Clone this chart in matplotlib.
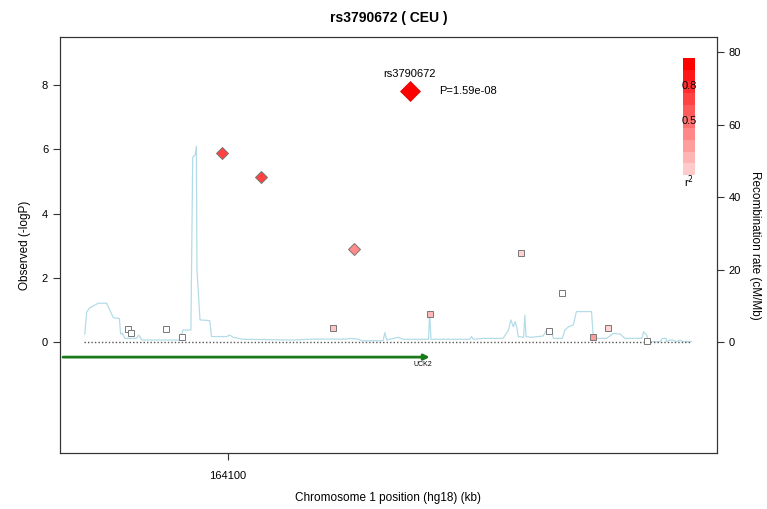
import numpy as np
import matplotlib.pyplot as plt
from matplotlib.colors import LinearSegmentedColormap
from matplotlib.patches import Rectangle

plt.rcParams['font.family'] = ['Liberation Sans', 'DejaVu Sans']

# lead SNP
lead_name = "rs3790672"
lead_pos = 164130.0
lead_logp = 7.80
lead_p = "P=1.59e-08"

# other SNPs: position (kb), -log10 P, r2 with lead SNP
snp_pos = [164099.0, 164105.4, 164120.8,
           164083.5, 164084.1, 164089.8, 164092.5, 164117.3, 164133.4,
           164148.4, 164153.0, 164155.2, 164160.3, 164162.8, 164169.1]
snp_logp = [5.89, 5.14, 2.90,
            0.41, 0.29, 0.40, 0.17, 0.44, 0.88,
            2.78, 0.34, 1.53, 0.15, 0.45, 0.04]
snp_r2 = [0.70, 0.70, 0.38,
          0.0, 0.0, 0.0, 0.0, 0.12, 0.18,
          0.06, 0.0, 0.0, 0.30, 0.06, 0.0]
snp_shape = ['D', 'D', 'D',
             's', 's', 's', 's', 's', 's',
             's', 's', 's', 's', 's', 's']

# recombination rate (cM/Mb)
rec_pos = [164076.4, 164076.7, 164077.1, 164078.6, 164080.0, 164081.1, 164082.1, 164082.3,
           164082.6, 164083.0, 164084.9, 164085.3, 164085.8, 164092.1, 164092.6, 164093.9,
           164094.2, 164094.6, 164094.8, 164094.9, 164095.4, 164097.0, 164097.3, 164099.8,
           164100.3, 164100.9, 164102.5, 164110.7, 164114.0, 164119.6, 164120.1, 164121.5,
           164122.1, 164125.6, 164125.9, 164126.2, 164128.1, 164128.9, 164133.1, 164133.3,
           164133.5, 164139.9, 164140.2, 164140.5, 164142.1, 164145.4, 164146.3, 164146.7,
           164147.1, 164147.4, 164147.7, 164147.9, 164148.8, 164149.0, 164149.2, 164150.1,
           164152.0, 164152.6, 164153.4, 164153.7, 164155.2, 164155.6, 164156.2, 164157.0,
           164157.5, 164160.0, 164160.3, 164162.5, 164163.6, 164164.7, 164165.5, 164168.3,
           164168.6, 164169.1, 164169.4, 164171.3, 164171.7, 164172.3, 164172.4, 164172.9,
           164173.5, 164173.9, 164174.6, 164175.1, 164176.5]
rec_rate = [2.2, 8.1, 9.3, 10.7, 10.7, 6.7, 6.5, 2.2,
            2.4, 1.0, 1.0, 1.9, 0.55, 0.55, 3.3, 3.3,
            51.0, 51.6, 54.0, 19.9, 6.1, 5.9, 1.5, 1.5,
            1.9, 1.3, 0.75, 0.55, 0.8, 0.8, 1.0, 0.8,
            0.36, 0.36, 2.6, 0.55, 1.3, 0.75, 0.75, 8.4,
            0.75, 0.75, 1.5, 0.75, 1.0, 1.0, 3.3, 6.1,
            4.2, 5.6, 3.8, 1.5, 1.3, 7.4, 1.5, 1.3,
            1.65, 3.3, 3.3, 1.0, 1.0, 3.3, 4.2, 4.7,
            8.4, 8.4, 1.0, 1.0, 2.4, 2.2, 1.0, 1.0,
            2.8, 1.9, 0.1, 0.1, 1.0, 1.0, 0.1, 0.55,
            0.55, 0.1, 0.5, 0.1, 0.1]

# gene
gene_name = "UCK2"
gene_start = 164060.0
gene_end = 164133.3

region = (164076.2, 164176.2)
x_ticks = [164100]

cmap = LinearSegmentedColormap.from_list("ld", ["#ffffff", "#ff0000"])

fig = plt.figure(figsize=(7.67, 5.09), dpi=100)
ax = fig.add_axes([0.0782, 0.110, 0.8566, 0.8173])
ax2 = ax.twinx()

ax.set_xlim(164072.3, 164180.7)
ax.set_ylim(-3.455, 9.494)
ax2.set_ylim(-30.62, 84.14)

ax.set_zorder(ax2.get_zorder() + 1)
ax.patch.set_visible(False)

# recombination line on the right axis
ax2.plot(rec_pos, rec_rate, color='#b4dce8', lw=0.9)

# baseline
ax.plot(region, [0, 0], color='#555555', lw=1.0, ls=(0, (1, 1.5)))

# gene arrow, clipped to the plot area
left = max(gene_start, ax.get_xlim()[0] + 0.5)
ax.annotate('', xy=(gene_end, -0.47), xytext=(left, -0.47),
            arrowprops=dict(arrowstyle='-|>', color='#1a7a1a', lw=2,
                            mutation_scale=8, shrinkA=0, shrinkB=0))
ax.text(gene_end - 1.1, -0.69, gene_name, fontsize=5, ha='center', va='center')

# SNPs
for p, lp, r, m in zip(snp_pos, snp_logp, snp_r2, snp_shape):
    ms = 6.5 if m == 'D' else 5
    ax.plot(p, lp, marker=m, ms=ms, mfc=cmap(0.12 + 0.88 * r) if r > 0 else 'white',
            mec='#777777', mew=0.7, ls='none')

ax.plot(lead_pos, lead_logp, marker='D', ms=10, mfc='#ff0000', mec='#dd0000', mew=0.5)
ax.text(lead_pos, lead_logp + 0.38, lead_name, fontsize=8, ha='center', va='bottom')
ax.text(lead_pos + 4.9, lead_logp, lead_p, fontsize=8, ha='left', va='center')

# r2 legend
n_bands = 10
x0, x1 = 0.948, 0.967
y_bot, y_top = 0.668, 0.950
h = (y_top - y_bot) / n_bands
for i in range(n_bands):
    ax.add_patch(Rectangle((x0, y_bot + i * h), x1 - x0, h, transform=ax.transAxes,
                           facecolor=cmap(0.12 + 0.88 * (i + 1) / n_bands), edgecolor='none'))
ax.text((x0 + x1) / 2, y_bot + 0.76 * (y_top - y_bot), "0.8", transform=ax.transAxes,
        fontsize=8, ha='center', va='center')
ax.text((x0 + x1) / 2, y_bot + 0.46 * (y_top - y_bot), "0.5", transform=ax.transAxes,
        fontsize=8, ha='center', va='center')
ax.text((x0 + x1) / 2, y_bot - 0.015, "r$^2$", transform=ax.transAxes,
        fontsize=8, ha='center', va='center')

# axes
ax.set_xticks(x_ticks)
ax.set_xticklabels([str(t) for t in x_ticks])
ax.set_yticks([0, 2, 4, 6, 8])
ax2.set_yticks([0, 20, 40, 60, 80])
for a in (ax, ax2):
    a.tick_params(labelsize=8, length=5, width=0.8, color='#333333')
    for s in a.spines.values():
        s.set_color('#333333')
        s.set_linewidth(0.8)
ax.tick_params(axis='x', pad=8)

ax.set_ylabel("Observed (-logP)", fontsize=8.5, labelpad=8)
ax2.set_ylabel("Recombination rate (cM/Mb)", fontsize=8.5, rotation=270, labelpad=14)
ax.set_xlabel("Chromosome 1 position (hg18) (kb)", fontsize=8.5, labelpad=8)
ax.set_title(f"{lead_name} ( CEU )", fontsize=10, fontweight='bold', pad=11)

fig.savefig("out.png", dpi=100)
